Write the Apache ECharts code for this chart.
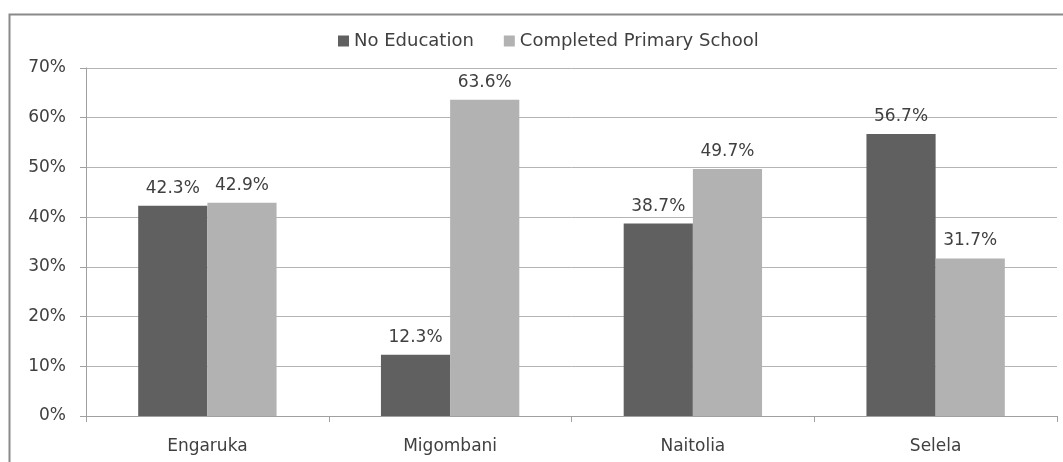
<!DOCTYPE html>
<html>
<head>
<meta charset="utf-8">
<script src="https://cdn.jsdelivr.net/npm/echarts@6/dist/echarts.min.js"></script>
<style>
  html, body { margin: 0; padding: 0; background: #fff; }
  #main { width: 1063px; height: 462px; }
</style>
</head>
<body>
<div id="main"></div>
<script>
// 数据
const villages = ['Engaruka', 'Migombani', 'Naitolia', 'Selela'];
const noEducation = [42.3, 12.3, 38.7, 56.7];
const completedPrimary = [42.9, 63.6, 49.7, 31.7];

const fontFamily = '"DejaVu Sans", sans-serif';

let myChart = echarts.init(document.getElementById('main'));

let labelStyle = {
    show: true,
    position: 'top',
    distance: 9,
    color: '#404040',
    fontSize: 17,
    fontFamily: fontFamily,
    formatter: p => p.value.toFixed(1) + '%'
};

myChart.setOption({
    animation: false,
    textStyle: { fontFamily: fontFamily },
    // 外框
    graphic: [{
        type: 'rect',
        shape: { x: 9.5, y: 14.5, width: 1070, height: 470 },
        style: { fill: 'none', stroke: '#8a8a8a', lineWidth: 2 },
        silent: true
    }],
    legend: {
        top: 27,
        left: 333,
        itemWidth: 11,
        itemHeight: 11,
        itemGap: 30,
        icon: 'rect',
        textStyle: { color: '#404040', fontSize: 18, fontFamily: fontFamily },
        data: ['No Education', 'Completed Primary School']
    },
    grid: {
        left: 86,
        right: 6,
        top: 68,
        bottom: 46,
        containLabel: false
    },
    xAxis: {
        type: 'category',
        data: villages,
        axisLine: { lineStyle: { color: '#a0a0a0', width: 1 } },
        axisTick: { show: true, length: 6, lineStyle: { color: '#a0a0a0' } },
        axisLabel: { color: '#404040', fontSize: 17, fontFamily: fontFamily, margin: 22 }
    },
    yAxis: {
        type: 'value',
        min: 0,
        max: 70,
        interval: 10,
        axisLine: { show: true, lineStyle: { color: '#a0a0a0' } },
        axisTick: { show: true, length: 6, lineStyle: { color: '#a0a0a0' } },
        splitLine: { lineStyle: { color: '#b4b4b4', width: 1 } },
        axisLabel: {
            color: '#404040',
            fontSize: 17,
            fontFamily: fontFamily,
            margin: 20,
            formatter: v => v + '%'
        }
    },
    series: [{
        name: 'No Education',
        type: 'bar',
        data: noEducation,
        barGap: '0%',
        barCategoryGap: '43%',
        itemStyle: { color: '#606060' },
        label: labelStyle
    }, {
        name: 'Completed Primary School',
        type: 'bar',
        data: completedPrimary,
        itemStyle: { color: '#b2b2b2' },
        label: labelStyle
    }]
});
</script>
</body>
</html>
